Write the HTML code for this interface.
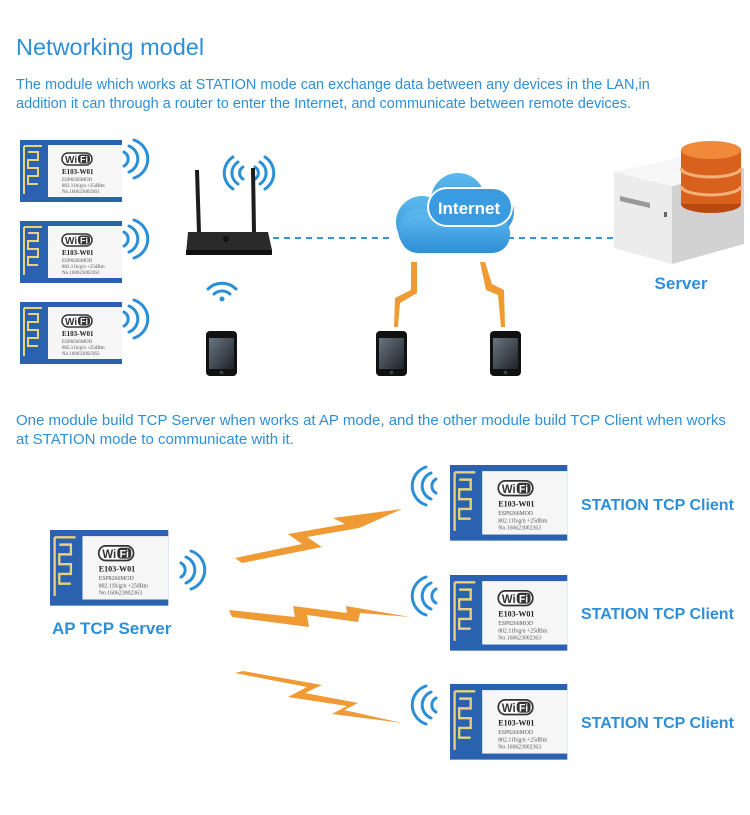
<!DOCTYPE html>
<html><head><meta charset="utf-8"><style>
body{margin:0;background:#fff;width:750px;height:815px;overflow:hidden;font-family:"Liberation Sans",sans-serif}
svg{position:absolute;left:0;top:0}
</style></head><body>
<svg width="750" height="815" viewBox="0 0 750 815" xmlns="http://www.w3.org/2000/svg" font-family="Liberation Sans, sans-serif">
<defs>
<linearGradient id="phone" x1="0" y1="0" x2="1" y2="1"><stop offset="0" stop-color="#6a7580"/><stop offset="1" stop-color="#1e2329"/></linearGradient>
<linearGradient id="cloud" x1="0" y1="0" x2="0" y2="1"><stop offset="0" stop-color="#5cb8ee"/><stop offset="1" stop-color="#2f8fd6"/></linearGradient>
</defs>
<text x="16" y="55" font-size="23.5" fill="#2e8fd8">Networking model</text>
<text x="16" y="89" font-size="14.5" fill="#2e8fd8">The module which works at STATION mode can exchange data between any devices in the LAN,in</text>
<text x="16" y="108" font-size="14.5" fill="#2e8fd8">addition it can through a router to enter the Internet, and communicate between remote devices.</text>
<text x="16" y="425" font-size="15" fill="#2e8fd8">One module build TCP Server when works at AP mode, and the other module build TCP Client when works</text>
<text x="16" y="444" font-size="15" fill="#2e8fd8">at STATION mode to communicate with it.</text>

<g transform="translate(20,140)">
<rect width="102" height="62" fill="#2a62b0"/>
<path d="M4 6 H22 M4 6 V54 M8 12 H18 V20 H8 V28 H18 V36 H8 V44 H18" stroke="#e9d27a" stroke-width="2" fill="none"/>
<rect x="28" y="5" width="74" height="52" fill="#f6f6f6"/>
<rect x="42" y="13" width="30" height="12" rx="6" fill="#fff" stroke="#333" stroke-width="1.5"/>
<text x="45" y="23" font-size="10" font-weight="bold" fill="#333">Wi</text><rect x="58" y="14.5" width="12" height="9" rx="3" fill="#333"/><text x="60" y="22.5" font-size="9" font-weight="bold" fill="#fff">Fi</text>
<text x="42" y="34" font-size="7" font-weight="bold" font-family="Liberation Serif, serif" fill="#222">E103-W01</text>
<text x="42" y="41" font-size="5" font-family="Liberation Serif, serif" fill="#555">ESP8266MOD</text>
<text x="42" y="47" font-size="5" font-family="Liberation Serif, serif" fill="#555">802.11b/g/n  +25dBm</text>
<text x="42" y="53" font-size="5" font-family="Liberation Serif, serif" fill="#555">No.160623002363</text>
</g>
<g transform="translate(20,221)">
<rect width="102" height="62" fill="#2a62b0"/>
<path d="M4 6 H22 M4 6 V54 M8 12 H18 V20 H8 V28 H18 V36 H8 V44 H18" stroke="#e9d27a" stroke-width="2" fill="none"/>
<rect x="28" y="5" width="74" height="52" fill="#f6f6f6"/>
<rect x="42" y="13" width="30" height="12" rx="6" fill="#fff" stroke="#333" stroke-width="1.5"/>
<text x="45" y="23" font-size="10" font-weight="bold" fill="#333">Wi</text><rect x="58" y="14.5" width="12" height="9" rx="3" fill="#333"/><text x="60" y="22.5" font-size="9" font-weight="bold" fill="#fff">Fi</text>
<text x="42" y="34" font-size="7" font-weight="bold" font-family="Liberation Serif, serif" fill="#222">E103-W01</text>
<text x="42" y="41" font-size="5" font-family="Liberation Serif, serif" fill="#555">ESP8266MOD</text>
<text x="42" y="47" font-size="5" font-family="Liberation Serif, serif" fill="#555">802.11b/g/n  +25dBm</text>
<text x="42" y="53" font-size="5" font-family="Liberation Serif, serif" fill="#555">No.160623002363</text>
</g>
<g transform="translate(20,302)">
<rect width="102" height="62" fill="#2a62b0"/>
<path d="M4 6 H22 M4 6 V54 M8 12 H18 V20 H8 V28 H18 V36 H8 V44 H18" stroke="#e9d27a" stroke-width="2" fill="none"/>
<rect x="28" y="5" width="74" height="52" fill="#f6f6f6"/>
<rect x="42" y="13" width="30" height="12" rx="6" fill="#fff" stroke="#333" stroke-width="1.5"/>
<text x="45" y="23" font-size="10" font-weight="bold" fill="#333">Wi</text><rect x="58" y="14.5" width="12" height="9" rx="3" fill="#333"/><text x="60" y="22.5" font-size="9" font-weight="bold" fill="#fff">Fi</text>
<text x="42" y="34" font-size="7" font-weight="bold" font-family="Liberation Serif, serif" fill="#222">E103-W01</text>
<text x="42" y="41" font-size="5" font-family="Liberation Serif, serif" fill="#555">ESP8266MOD</text>
<text x="42" y="47" font-size="5" font-family="Liberation Serif, serif" fill="#555">802.11b/g/n  +25dBm</text>
<text x="42" y="53" font-size="5" font-family="Liberation Serif, serif" fill="#555">No.160623002363</text>
</g>
<g transform="translate(50,530) scale(1.16,1.22)">
<rect width="102" height="62" fill="#2a62b0"/>
<path d="M4 6 H22 M4 6 V54 M8 12 H18 V20 H8 V28 H18 V36 H8 V44 H18" stroke="#e9d27a" stroke-width="2" fill="none"/>
<rect x="28" y="5" width="74" height="52" fill="#f6f6f6"/>
<rect x="42" y="13" width="30" height="12" rx="6" fill="#fff" stroke="#333" stroke-width="1.5"/>
<text x="45" y="23" font-size="10" font-weight="bold" fill="#333">Wi</text><rect x="58" y="14.5" width="12" height="9" rx="3" fill="#333"/><text x="60" y="22.5" font-size="9" font-weight="bold" fill="#fff">Fi</text>
<text x="42" y="34" font-size="7" font-weight="bold" font-family="Liberation Serif, serif" fill="#222">E103-W01</text>
<text x="42" y="41" font-size="5" font-family="Liberation Serif, serif" fill="#555">ESP8266MOD</text>
<text x="42" y="47" font-size="5" font-family="Liberation Serif, serif" fill="#555">802.11b/g/n  +25dBm</text>
<text x="42" y="53" font-size="5" font-family="Liberation Serif, serif" fill="#555">No.160623002363</text>
</g>
<g transform="translate(450,465) scale(1.15,1.22)">
<rect width="102" height="62" fill="#2a62b0"/>
<path d="M4 6 H22 M4 6 V54 M8 12 H18 V20 H8 V28 H18 V36 H8 V44 H18" stroke="#e9d27a" stroke-width="2" fill="none"/>
<rect x="28" y="5" width="74" height="52" fill="#f6f6f6"/>
<rect x="42" y="13" width="30" height="12" rx="6" fill="#fff" stroke="#333" stroke-width="1.5"/>
<text x="45" y="23" font-size="10" font-weight="bold" fill="#333">Wi</text><rect x="58" y="14.5" width="12" height="9" rx="3" fill="#333"/><text x="60" y="22.5" font-size="9" font-weight="bold" fill="#fff">Fi</text>
<text x="42" y="34" font-size="7" font-weight="bold" font-family="Liberation Serif, serif" fill="#222">E103-W01</text>
<text x="42" y="41" font-size="5" font-family="Liberation Serif, serif" fill="#555">ESP8266MOD</text>
<text x="42" y="47" font-size="5" font-family="Liberation Serif, serif" fill="#555">802.11b/g/n  +25dBm</text>
<text x="42" y="53" font-size="5" font-family="Liberation Serif, serif" fill="#555">No.160623002363</text>
</g>
<g transform="translate(450,575) scale(1.15,1.22)">
<rect width="102" height="62" fill="#2a62b0"/>
<path d="M4 6 H22 M4 6 V54 M8 12 H18 V20 H8 V28 H18 V36 H8 V44 H18" stroke="#e9d27a" stroke-width="2" fill="none"/>
<rect x="28" y="5" width="74" height="52" fill="#f6f6f6"/>
<rect x="42" y="13" width="30" height="12" rx="6" fill="#fff" stroke="#333" stroke-width="1.5"/>
<text x="45" y="23" font-size="10" font-weight="bold" fill="#333">Wi</text><rect x="58" y="14.5" width="12" height="9" rx="3" fill="#333"/><text x="60" y="22.5" font-size="9" font-weight="bold" fill="#fff">Fi</text>
<text x="42" y="34" font-size="7" font-weight="bold" font-family="Liberation Serif, serif" fill="#222">E103-W01</text>
<text x="42" y="41" font-size="5" font-family="Liberation Serif, serif" fill="#555">ESP8266MOD</text>
<text x="42" y="47" font-size="5" font-family="Liberation Serif, serif" fill="#555">802.11b/g/n  +25dBm</text>
<text x="42" y="53" font-size="5" font-family="Liberation Serif, serif" fill="#555">No.160623002363</text>
</g>
<g transform="translate(450,684) scale(1.15,1.22)">
<rect width="102" height="62" fill="#2a62b0"/>
<path d="M4 6 H22 M4 6 V54 M8 12 H18 V20 H8 V28 H18 V36 H8 V44 H18" stroke="#e9d27a" stroke-width="2" fill="none"/>
<rect x="28" y="5" width="74" height="52" fill="#f6f6f6"/>
<rect x="42" y="13" width="30" height="12" rx="6" fill="#fff" stroke="#333" stroke-width="1.5"/>
<text x="45" y="23" font-size="10" font-weight="bold" fill="#333">Wi</text><rect x="58" y="14.5" width="12" height="9" rx="3" fill="#333"/><text x="60" y="22.5" font-size="9" font-weight="bold" fill="#fff">Fi</text>
<text x="42" y="34" font-size="7" font-weight="bold" font-family="Liberation Serif, serif" fill="#222">E103-W01</text>
<text x="42" y="41" font-size="5" font-family="Liberation Serif, serif" fill="#555">ESP8266MOD</text>
<text x="42" y="47" font-size="5" font-family="Liberation Serif, serif" fill="#555">802.11b/g/n  +25dBm</text>
<text x="42" y="53" font-size="5" font-family="Liberation Serif, serif" fill="#555">No.160623002363</text>
</g>

<g fill="none" stroke="#2a8fd6" stroke-width="3" stroke-linecap="round">
<path d="M124 152 a8 8 0 0 1 0 14 M129 146 a14 14 0 0 1 0 26 M134 140 a20 20 0 0 1 0 38"/>
<path d="M124 232 a8 8 0 0 1 0 14 M129 226 a14 14 0 0 1 0 26 M134 220 a20 20 0 0 1 0 38"/>
<path d="M124 312 a8 8 0 0 1 0 14 M129 306 a14 14 0 0 1 0 26 M134 300 a20 20 0 0 1 0 38"/>
<path d="M181 563 a8 8 0 0 1 0 14 M186 557 a14 14 0 0 1 0 26 M191 551 a20 20 0 0 1 0 38"/>
<path d="M436 479 a8 8 0 0 0 0 14 M431 473 a14 14 0 0 0 0 26 M426 467 a20 20 0 0 0 0 38"/>
<path d="M436 589 a8 8 0 0 0 0 14 M431 583 a14 14 0 0 0 0 26 M426 577 a20 20 0 0 0 0 38"/>
<path d="M436 698 a8 8 0 0 0 0 14 M431 692 a14 14 0 0 0 0 26 M426 686 a20 20 0 0 0 0 38"/>
<path d="M243 167 a7 7 0 0 0 0 12 M238 162 a13 13 0 0 0 0 22 M233 157 a19 19 0 0 0 0 32"/>
<path d="M255 167 a7 7 0 0 1 0 12 M260 162 a13 13 0 0 1 0 22 M265 157 a19 19 0 0 1 0 32"/>
<path d="M214 294 a12 12 0 0 1 16 0 M208 289 a20 20 0 0 1 28 0"/>
</g>
<circle cx="222" cy="299" r="2.5" fill="#2a8fd6"/>

<path d="M197 233 L195 170 L199 170 L201 233 Z M252 233 L251 168 L255 168 L256 233Z" fill="#1c1c1c"/>
<path d="M188 232 L268 232 L272 250 L186 254 Z" fill="#2a2a2a"/>
<rect x="186" y="250" width="86" height="5" fill="#111"/>
<circle cx="226" cy="239" r="3" fill="#111"/>

<g stroke="#3a93d6" stroke-width="2" stroke-dasharray="6,5">
<line x1="273" y1="238" x2="393" y2="238"/><line x1="508" y1="238" x2="615" y2="238"/>
</g>

<g fill="url(#cloud)">
<circle cx="422" cy="222" r="26"/><circle cx="458" cy="200" r="27"/><circle cx="490" cy="212" r="24"/><circle cx="420" cy="230" r="22"/>
<rect x="400" y="215" width="110" height="38" rx="18"/>
</g>
<rect x="428" y="188" width="84" height="38" rx="19" fill="#3a9be0" stroke="#fff" stroke-width="2"/>
<text x="469" y="214" font-size="17" font-weight="bold" fill="#fff" text-anchor="middle">Internet</text>

<g fill="#ef9a33">
<polygon points="411,262 417,262 417,293 400,303 398,327 394,327 395,298 411,290"/>
<polygon points="480,262 485,262 492,284 504,290 505,327 501,327 498,295 486,290"/>
<polygon points="235,558 302,544 288,534 345,524 333,518 402,509 359,528 307,537 322,547 242,563"/>
<polygon points="229,610 295,617 293,606 347,613 346,606 410,617 360,613 358,622 307,615 309,627 232,617"/>
<polygon points="243,671 322,685 305,693 358,703 344,710 402,723 332,714 347,706 288,697 307,687 235,673"/>
</g>

<g>
<rect x="206" y="331" width="31" height="45" rx="4" fill="#111"/><rect x="209" y="338" width="25" height="31" fill="url(#phone)"/><circle cx="221.5" cy="372.5" r="1.8" fill="#444"/>
<rect x="376" y="331" width="31" height="45" rx="4" fill="#111"/><rect x="379" y="338" width="25" height="31" fill="url(#phone)"/><circle cx="391.5" cy="372.5" r="1.8" fill="#444"/>
<rect x="490" y="331" width="31" height="45" rx="4" fill="#111"/><rect x="493" y="338" width="25" height="31" fill="url(#phone)"/><circle cx="505.5" cy="372.5" r="1.8" fill="#444"/>
</g>

<path d="M614 172 L672 186 L672 264 L614 248 Z" fill="#ececec"/>
<path d="M672 186 L744 168 L744 244 L672 264 Z" fill="#d2d2d2"/>
<path d="M614 172 L690 155 L744 168 L672 186 Z" fill="#f7f7f7"/>
<path d="M620 196 L650 203 L650 208 L620 201 Z" fill="#999"/>
<rect x="664" y="212" width="3" height="5" fill="#666"/>
<g>
<ellipse cx="711" cy="204" rx="30" ry="9" fill="#b84a10"/><rect x="681" y="150" width="60" height="54" fill="#d8621d"/>
<path d="M681 168 a30 9 0 0 0 60 0 M681 186 a30 9 0 0 0 60 0" stroke="#f4b27a" stroke-width="3" fill="none"/>
<ellipse cx="711" cy="150" rx="30" ry="9" fill="#f08a3a"/>
</g>
<text x="681" y="289" font-size="17" font-weight="bold" fill="#2e8fd8" text-anchor="middle">Server</text>

<text x="52" y="634" font-size="17" font-weight="bold" fill="#2e8fd8">AP TCP Server</text>
<text x="581" y="510" font-size="16" font-weight="bold" fill="#2e8fd8">STATION TCP Client</text>
<text x="581" y="619" font-size="16" font-weight="bold" fill="#2e8fd8">STATION TCP Client</text>
<text x="581" y="728" font-size="16" font-weight="bold" fill="#2e8fd8">STATION TCP Client</text>
</svg>
</body></html>
